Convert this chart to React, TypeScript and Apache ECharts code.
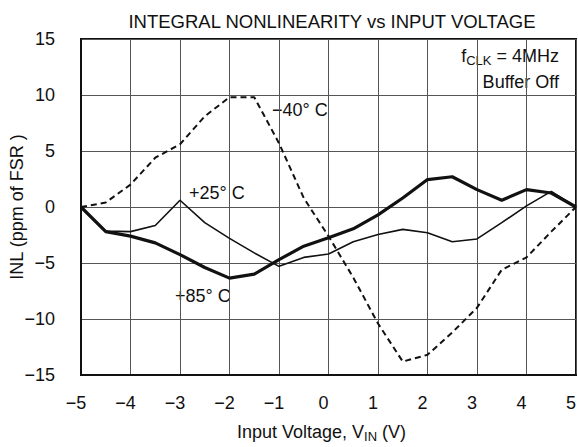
import React, { useEffect, useRef } from "react";
import * as echarts from "echarts";

const title = "INTEGRAL NONLINEARITY vs INPUT VOLTAGE";

const m40X = [-5, -4.5, -4, -3.5, -3, -2.5, -2, -1.5, -1, -0.5, 0, 0.5, 1, 1.5, 2, 2.5, 3, 3.5, 4, 4.5, 5];
const m40Y = [0, 0.4, 2.0, 4.4, 5.6, 8.1, 9.8, 9.8, 5.7, 0.8, -2.6, -6.3, -10.4, -13.8, -13.2, -11.2, -9.0, -5.6, -4.5, -2.2, 0];

const p25X = [-5, -4.5, -4, -3.5, -3, -2.5, -2, -1.5, -1, -0.5, 0, 0.5, 1, 1.5, 2, 2.5, 3, 3.5, 4, 4.5, 5];
const p25Y = [0, -2.15, -2.2, -1.65, 0.6, -1.4, -2.8, -4.1, -5.3, -4.5, -4.2, -3.1, -2.45, -2.0, -2.3, -3.1, -2.85, -1.4, 0.1, 1.4, 0];

const p85X = [-5, -4.5, -4, -3.5, -3, -2.5, -2, -1.5, -1, -0.5, 0, 0.5, 1, 1.5, 2, 2.5, 3, 3.5, 4, 4.5, 5];
const p85Y = [0, -2.2, -2.6, -3.2, -4.25, -5.4, -6.35, -6.0, -4.7, -3.5, -2.75, -1.95, -0.7, 0.8, 2.45, 2.7, 1.55, 0.6, 1.55, 1.25, 0];

const zip = (xs: number[], ys: number[]) => xs.map((x, i) => [x, ys[i]]);
const FONT = "'Liberation Sans', Arial, Helvetica, sans-serif";
const minus = (v: number) => String(v).replace("-", "\u2212");

export default function App() {
  const ref = useRef<HTMLDivElement>(null);
  useEffect(() => {
    const chart = echarts.init(ref.current!, null, { renderer: "svg" });
    chart.setOption({
      animation: false,
      backgroundColor: "#ffffff",
      textStyle: { fontFamily: FONT },
      title: {
        text: title,
        left: 327,
        textAlign: "center",
        top: 7,
        textStyle: { fontFamily: FONT, fontSize: 18.5, fontWeight: "normal", color: "#111" },
      },
      grid: {
        left: 81,
        right: 2,
        top: 39,
        bottom: 72,
        show: true,
        borderColor: "#111",
        borderWidth: 2,
        containLabel: false,
        outerBoundsMode: "none",
      },
      xAxis: {
        type: "value",
        min: -5,
        max: 5,
        interval: 1,
        name: "Input Voltage, V{sub|IN} (V)",
        nameLocation: "middle",
        nameGap: 46,
        nameMoveOverlap: false,
        nameTextStyle: {
          fontFamily: FONT,
          fontSize: 18,
          color: "#111",
          padding: [0, 14, 0, 0],
          rich: { sub: { fontSize: 13, padding: [9, 0, 0, 0], fontFamily: FONT, color: "#111" } },
        },
        axisLine: { show: true, onZero: false, lineStyle: { color: "#111", width: 2 } },
        axisTick: { show: false },
        axisLabel: {
          fontFamily: FONT,
          fontSize: 18,
          color: "#111",
          margin: 19,
          padding: [0, 10, 0, 0],
          formatter: (v: number) => minus(v),
        },
        splitLine: { show: true, lineStyle: { color: "#555", width: 1 } },
      },
      yAxis: {
        type: "value",
        min: -15,
        max: 15,
        interval: 5,
        name: "INL (ppm of FSR )",
        nameLocation: "middle",
        nameGap: 55,
        nameMoveOverlap: false,
        nameTextStyle: { fontFamily: FONT, fontSize: 18, color: "#111" },
        axisLine: { show: true, onZero: false, lineStyle: { color: "#111", width: 2 } },
        axisTick: { show: false },
        axisLabel: { fontFamily: FONT, fontSize: 18, color: "#111", margin: 26, formatter: (v: number) => minus(v) },
        splitLine: { show: true, lineStyle: { color: "#555", width: 1 } },
      },
      series: [
        {
          name: "-40",
          type: "line",
          data: zip(m40X, m40Y),
          symbol: "none",
          lineStyle: { color: "#111", width: 2, type: [6, 4] },
        },
        {
          name: "+25",
          type: "line",
          data: zip(p25X, p25Y),
          symbol: "none",
          lineStyle: { color: "#111", width: 1.6 },
        },
        {
          name: "+85",
          type: "line",
          data: zip(p85X, p85Y),
          symbol: "none",
          lineStyle: { color: "#111", width: 3.2 },
        },
      ],
      graphic: [
        {
          type: "text",
          left: 272,
          top: 101,
          style: { text: "\u221240\u00b0 C", font: `18px ${FONT}`, fill: "#111" },
        },
        {
          type: "text",
          left: 189,
          top: 184,
          style: { text: "+25\u00b0 C", font: `18px ${FONT}`, fill: "#111" },
        },
        {
          type: "text",
          left: 175,
          top: 287,
          style: { text: "+85\u00b0 C", font: `18px ${FONT}`, fill: "#111" },
        },
        {
          type: "text",
          right: 19,
          top: 47,
          style: {
            text: "f{sub|CLK} = 4MHz",
            font: `18px ${FONT}`,
            fill: "#111",
            rich: { sub: { fontSize: 13, fontFamily: FONT, fill: "#111", padding: [9, 0, 0, 0] } },
          },
        },
        {
          type: "text",
          right: 19,
          top: 73,
          style: { text: "Buffer Off", font: `18px ${FONT}`, fill: "#111" },
        },
      ],
    });
    return () => chart.dispose();
  }, []);
  return <div ref={ref} style={{ position: "fixed", left: 0, top: 0, width: 578, height: 447 }} />;
}
